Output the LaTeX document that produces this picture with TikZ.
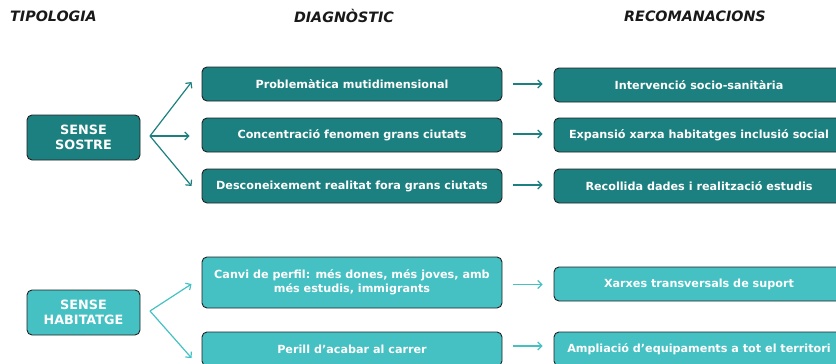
\documentclass[tikz,border=0pt]{standalone}
\usepackage{fontspec}
\setmainfont{DejaVu Sans}
\usetikzlibrary{arrows.meta}
\definecolor{darkteal}{HTML}{1D8080}
\definecolor{lightteal}{HTML}{45C1C4}
\definecolor{boxline}{HTML}{222222}
\tikzset{
  box/.style={draw=boxline, line width=0.9pt, rounded corners=5pt, text=white,
    font=\bfseries\fontsize{11.2}{14}\selectfont, align=center, inner sep=0pt},
  typebox/.style={box, minimum width=113pt, minimum height=45pt,
    font=\bfseries\fontsize{12.8}{14.7}\selectfont},
  diagbox/.style={box, minimum width=300pt, minimum height=34pt},
  recbox/.style={box, minimum width=290pt, minimum height=34pt},
  dark/.style={fill=darkteal},
  light/.style={fill=lightteal},
  head/.style={font=\bfseries\itshape\fontsize{14.3}{16}\selectfont, text=black!90, inner sep=0pt},
  link/.style={line width=1.2pt, -{Straight Barb[length=4pt,width=8pt]}},
}
\begin{document}
\begin{tikzpicture}[x=1pt,y=-1pt]
\useasboundingbox (0,0) rectangle (836,364);
\clip (0,0) rectangle (836,364);

% headers
\node[head, anchor=west] (h1) at (10,16) {TIPOLOGIA};
\node[head] (h2) at (344,16) {DIAGNÒSTIC};
\node[head] (h3) at (695,16) {RECOMANACIONS};

% top group
\node[typebox, dark] (t1) at (83.5,137.5) {SENSE\\SOSTRE};
\node[diagbox, dark] (d1) at (352,84) {Problemàtica mutidimensional};
\node[diagbox, dark] (d2) at (352,135) {Concentració fenomen grans ciutats};
\node[diagbox, dark] (d3) at (352,186) {Desconeixement realitat fora grans ciutats};
\node[recbox, dark] (r1) at (699,85) {Intervenció socio-sanitària};
\node[recbox, dark] (r2) at (699,135) {Expansió xarxa habitatges inclusió social};
\node[recbox, dark] (r3) at (699,186) {Recollida dades i realització estudis};

\coordinate (f1) at (150,136);
\begin{scope}[darkteal]
\draw[link] (f1) -- ([xshift=-10pt,yshift=2pt]d1.west);
\draw[link] (f1) -- ([xshift=-12pt]d2.west |- f1);
\draw[link] (f1) -- ([xshift=-10pt]d3.west);
\draw[link] ([xshift=11pt]d1.east) -- ([xshift=-11pt]r1.west |- d1.east);
\draw[link] ([xshift=11pt,yshift=1pt]d2.east) -- ([xshift=-11pt,yshift=1pt]r2.west |- d2.east);
\draw[link] ([xshift=11pt,yshift=1pt]d3.east) -- ([xshift=-11pt,yshift=1pt]r3.west |- d3.east);
\end{scope}

% bottom group
\node[typebox, light] (t2) at (83.5,312.5) {SENSE\\HABITATGE};
\node[diagbox, light, minimum height=51pt] (d4) at (352,282.5) {Canvi de perfil: més dones, més joves, amb\\més estudis, immigrants};
\node[diagbox, light] (d5) at (352,349) {Perill d’acabar al carrer};
\node[recbox, light] (r4) at (699,284) {Xarxes transversals de suport};
\node[recbox, light] (r5) at (699,349) {Ampliació d’equipaments a tot el territori};

\coordinate (f2) at (150,311);
\begin{scope}[lightteal]
\draw[link] (f2) -- ([xshift=-10pt,yshift=-1.5pt]d4.west);
\draw[link] (f2) -- ([xshift=-10pt,yshift=-9pt]d5.west);
\draw[link] ([xshift=11pt,yshift=-2pt]d4.east) -- ([xshift=-11pt,yshift=-2pt]r4.west |- d4.east);
\draw[link] ([xshift=11pt,yshift=3pt]d5.east) -- ([xshift=-11pt,yshift=3pt]r5.west |- d5.east);
\end{scope}
\end{tikzpicture}
\end{document}
